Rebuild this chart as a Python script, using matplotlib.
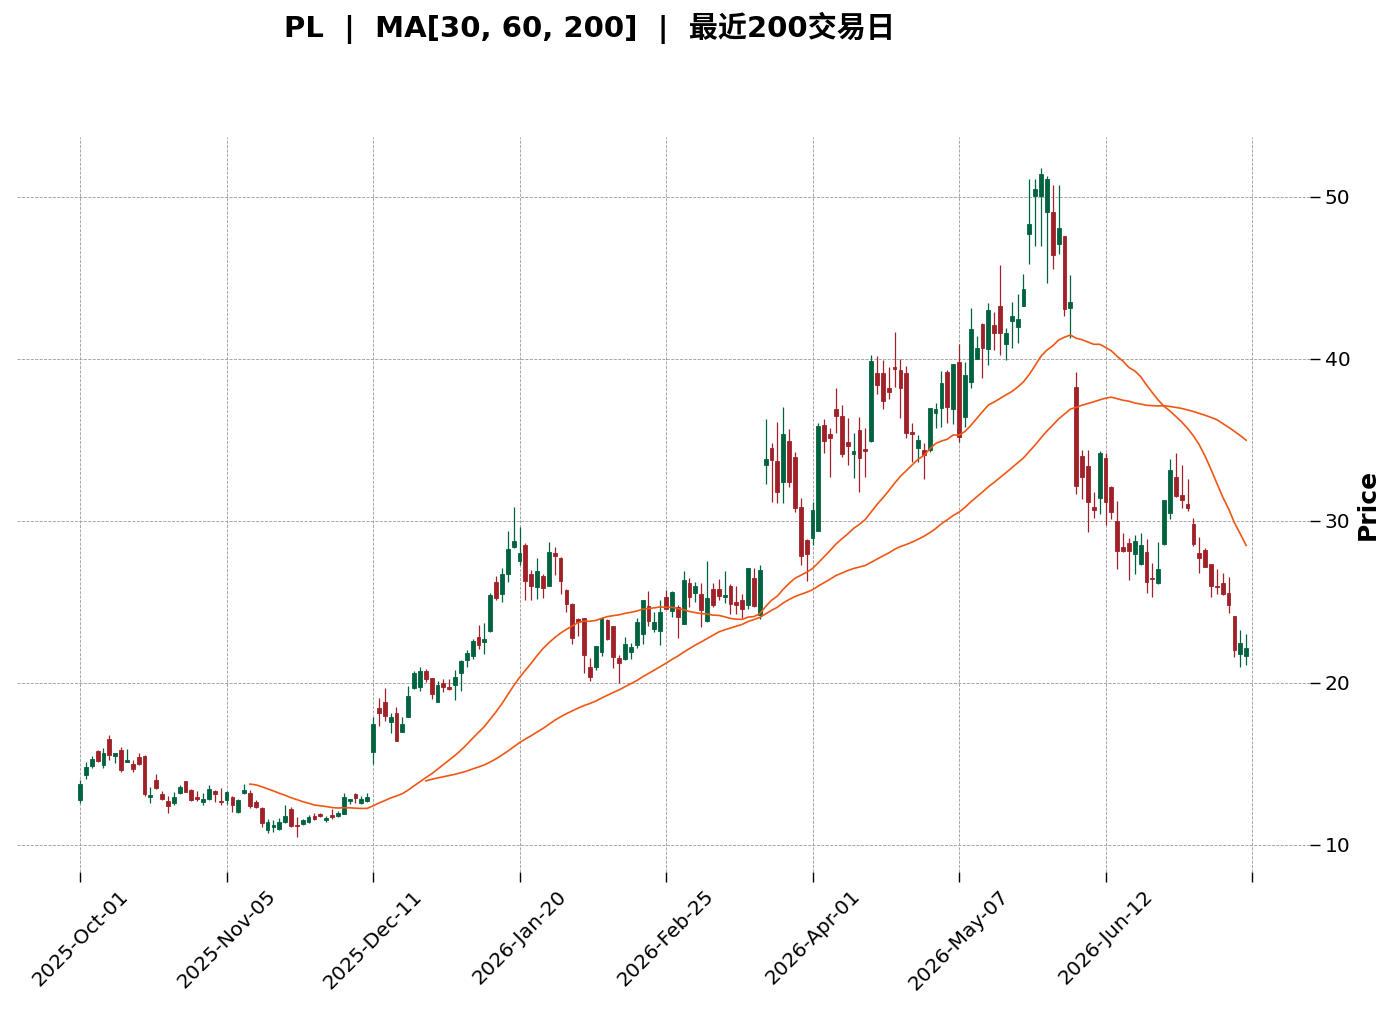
import pandas as pd
import numpy as np
import matplotlib
matplotlib.use("Agg")
import matplotlib.pyplot as plt

TICKER = "PL"
MA_WINDOWS = [30, 60, 200]
START = "2025-10-01"
HOLIDAYS = ["2025-11-27", "2025-12-25", "2026-01-01", "2026-01-19",
            "2026-02-16", "2026-04-03", "2026-05-25", "2026-06-19"]

opens = [
    12.78, 14.32, 14.88, 15.80, 14.96, 16.54, 15.49, 15.86, 15.14, 15.00,
    15.43, 15.49, 12.98, 14.01, 13.15, 12.72, 12.59, 13.21, 13.95, 13.40,
    12.98, 12.65, 12.86, 13.31, 12.71, 12.78, 12.98, 12.06, 13.19, 13.23,
    12.65, 12.26, 10.93, 11.09, 10.97, 11.42, 12.24, 11.23, 11.30, 11.42,
    11.79, 11.91, 11.54, 11.87, 11.79, 11.91, 12.73, 13.15, 12.57, 12.73,
    15.76, 18.46, 18.83, 17.61, 18.13, 16.99, 17.92, 19.71, 19.77, 20.76,
    20.31, 18.85, 20.02, 19.75, 19.86, 20.64, 21.42, 21.69, 22.84, 22.55,
    23.21, 26.22, 25.47, 26.75, 28.40, 27.55, 28.52, 26.71, 25.95, 26.60,
    26.01, 28.02, 27.72, 25.74, 24.88, 23.95, 23.99, 20.99, 21.01, 21.93,
    23.89, 23.52, 21.52, 21.46, 21.93, 22.35, 23.00, 24.75, 23.31, 23.23,
    25.33, 24.46, 24.67, 23.64, 26.15, 25.57, 25.49, 23.85, 25.78, 25.78,
    25.29, 25.99, 25.00, 25.12, 24.81, 26.46, 24.20, 33.46, 34.51, 33.70,
    32.39, 34.94, 33.95, 30.86, 28.83, 28.97, 29.40, 35.93, 35.35, 36.91,
    36.48, 34.90, 34.15, 35.62, 34.44, 34.96, 39.12, 39.12, 38.19, 39.49,
    39.32, 39.15, 35.49, 34.53, 34.38, 34.38, 36.69, 36.99, 39.20, 36.93,
    39.83, 36.40, 38.60, 40.00, 42.16, 40.60, 42.10, 43.27, 40.91, 42.37,
    41.99, 43.29, 47.70, 50.08, 50.08, 49.09, 49.09, 47.10, 47.59, 43.17,
    38.27, 34.01, 33.40, 30.86, 31.44, 33.87, 32.08, 30.00, 28.41, 28.62,
    27.94, 27.33, 28.07, 26.50, 26.17, 28.56, 30.47, 32.70, 31.60, 31.05,
    29.81, 28.01, 28.21, 27.35, 26.01, 26.15, 25.53, 24.14, 21.79, 21.67,
]
highs = [
    14.01, 15.10, 15.47, 15.89, 15.97, 16.77, 15.70, 16.03, 15.91, 15.23,
    15.66, 15.53, 13.58, 14.40, 13.31, 13.02, 13.25, 13.70, 13.95, 13.44,
    13.31, 13.19, 13.70, 13.38, 13.50, 13.31, 13.02, 12.82, 13.77, 13.40,
    12.78, 12.37, 11.59, 11.54, 11.65, 12.45, 12.37, 11.71, 11.63, 11.83,
    11.99, 11.99, 11.79, 12.22, 12.10, 13.19, 12.86, 13.19, 13.02, 13.19,
    17.92, 19.07, 19.67, 18.17, 18.50, 17.92, 19.81, 20.76, 20.97, 20.88,
    20.31, 20.10, 20.25, 20.27, 20.80, 21.42, 22.05, 22.70, 23.58, 23.72,
    25.54, 26.62, 27.12, 29.38, 30.89, 29.63, 28.62, 26.98, 27.70, 26.71,
    28.68, 28.38, 27.80, 25.80, 24.95, 24.03, 24.03, 21.52, 22.28, 24.09,
    23.93, 23.52, 21.73, 22.86, 22.45, 23.99, 25.12, 25.66, 24.38, 25.12,
    25.74, 25.70, 24.81, 26.93, 26.46, 26.25, 26.19, 27.55, 26.19, 26.42,
    26.91, 26.11, 25.99, 25.49, 27.08, 27.08, 27.28, 36.30, 34.80, 36.09,
    37.04, 35.68, 34.24, 31.40, 28.89, 31.19, 36.03, 36.30, 35.76, 38.19,
    37.16, 36.34, 35.45, 36.40, 35.72, 40.25, 40.19, 39.94, 39.53, 41.69,
    39.98, 39.57, 36.03, 35.31, 34.80, 36.99, 37.26, 39.26, 39.32, 39.69,
    40.91, 39.83, 43.13, 41.42, 42.24, 43.44, 42.92, 45.78, 41.89, 43.54,
    43.99, 45.25, 51.09, 51.09, 51.77, 51.30, 50.74, 50.74, 47.59, 45.19,
    39.22, 34.38, 34.38, 31.77, 34.32, 34.18, 32.18, 31.23, 29.28, 28.97,
    29.14, 29.24, 28.89, 27.39, 28.68, 31.30, 33.81, 34.22, 33.46, 32.57,
    30.16, 28.99, 28.31, 27.35, 27.02, 26.77, 26.56, 24.14, 23.27, 23.02,
]
lows = [
    12.57, 14.06, 14.73, 15.14, 14.73, 15.25, 15.04, 14.53, 15.14, 14.53,
    14.94, 13.04, 12.57, 13.46, 12.78, 11.96, 12.47, 13.13, 13.25, 12.73,
    12.73, 12.49, 12.78, 12.67, 12.45, 12.53, 12.02, 11.99, 13.13, 12.26,
    12.30, 11.09, 10.72, 10.82, 10.93, 11.38, 11.09, 10.47, 11.23, 11.34,
    11.54, 11.71, 11.42, 11.63, 11.71, 11.91, 12.53, 12.57, 12.53, 12.65,
    15.00, 17.35, 17.64, 16.89, 16.40, 16.99, 17.92, 19.61, 19.53, 20.08,
    19.01, 18.81, 19.44, 19.57, 18.95, 19.51, 20.97, 21.46, 22.10, 21.79,
    23.13, 25.10, 24.98, 26.22, 28.35, 27.28, 25.10, 25.12, 25.19, 25.23,
    26.01, 26.67, 25.51, 24.40, 22.39, 22.92, 20.60, 20.12, 20.80, 21.67,
    22.65, 20.91, 20.02, 21.42, 21.46, 22.18, 22.41, 23.52, 23.17, 22.35,
    24.55, 24.09, 22.76, 23.64, 24.67, 25.02, 23.48, 23.78, 24.67, 25.12,
    24.92, 24.26, 24.26, 23.99, 24.55, 24.67, 23.93, 32.26, 31.19, 31.09,
    31.09, 32.12, 30.58, 27.28, 26.30, 28.52, 29.40, 34.18, 32.74, 35.41,
    33.97, 33.46, 32.67, 31.81, 32.74, 34.90, 37.82, 36.90, 37.51, 38.25,
    36.34, 35.14, 33.66, 33.66, 32.57, 34.28, 35.72, 35.78, 36.07, 35.99,
    34.90, 35.78, 38.19, 40.00, 38.81, 39.63, 40.56, 40.25, 39.94, 40.66,
    41.01, 43.27, 45.86, 46.98, 46.98, 44.71, 45.53, 46.48, 42.65, 41.28,
    31.65, 31.34, 29.34, 30.16, 30.41, 29.75, 30.12, 27.04, 28.07, 26.36,
    26.71, 27.28, 25.53, 25.33, 26.09, 28.52, 30.10, 31.46, 30.78, 30.64,
    28.46, 26.81, 27.14, 25.29, 25.49, 25.43, 24.30, 21.63, 21.01, 21.11,
]
closes = [
    13.77, 14.81, 15.31, 15.21, 15.68, 15.58, 15.68, 14.65, 15.27, 14.71,
    15.02, 13.15, 13.11, 13.52, 12.86, 12.43, 12.96, 13.58, 13.29, 12.80,
    12.86, 12.84, 13.46, 13.15, 12.65, 13.25, 12.47, 12.78, 13.40, 12.43,
    12.37, 11.38, 11.40, 11.25, 11.42, 11.79, 11.17, 11.15, 11.54, 11.75,
    11.63, 11.79, 11.69, 11.71, 11.99, 12.94, 12.82, 12.88, 12.82, 12.94,
    17.47, 18.17, 17.98, 17.90, 16.44, 17.47, 19.20, 20.64, 20.74, 20.27,
    19.34, 19.86, 19.73, 19.65, 20.39, 21.38, 21.85, 22.59, 22.37, 22.70,
    25.43, 25.27, 26.71, 28.25, 28.75, 28.02, 26.32, 26.01, 26.90, 25.84,
    28.07, 27.86, 26.30, 24.90, 22.80, 23.78, 21.73, 20.39, 22.28, 23.99,
    22.74, 21.63, 21.25, 22.41, 22.22, 23.77, 25.12, 23.85, 23.77, 24.38,
    24.59, 25.62, 24.09, 26.36, 25.29, 25.99, 24.51, 25.25, 24.80, 25.37,
    25.43, 24.88, 24.81, 24.55, 27.08, 24.75, 26.98, 33.83, 33.77, 31.81,
    35.35, 32.39, 30.82, 27.86, 27.94, 30.68, 35.88, 34.94, 35.14, 36.50,
    34.14, 34.65, 34.32, 33.91, 34.34, 39.88, 38.40, 37.43, 37.98, 39.38,
    38.23, 35.41, 35.37, 35.00, 34.06, 36.99, 36.93, 38.50, 37.06, 39.69,
    35.20, 38.99, 41.85, 40.66, 40.70, 43.02, 41.59, 41.59, 41.59, 42.65,
    42.45, 44.32, 48.33, 50.49, 51.42, 51.11, 46.42, 48.07, 43.09, 43.54,
    32.18, 32.70, 31.15, 30.70, 34.18, 31.15, 30.54, 28.17, 28.15, 28.15,
    28.77, 28.52, 26.25, 26.44, 27.04, 31.30, 33.15, 31.56, 31.30, 30.82,
    28.58, 27.73, 27.18, 25.99, 25.94, 25.49, 24.81, 22.04, 22.49, 22.14,
]

UP = "#006340"
DOWN = "#a02128"
MA_COLOR = "#ef5714"

dates = pd.bdate_range(START, periods=len(closes), freq="C", holidays=HOLIDAYS)
df = pd.DataFrame({"Open": opens, "High": highs, "Low": lows, "Close": closes}, index=dates)
x = np.arange(len(df))

fig = plt.figure(figsize=(13.99, 10.11), dpi=100)
ax = fig.add_axes([0.0122, 0.1375, 0.9242, 0.727])

up = df["Close"] >= df["Open"]
colors = np.where(up, UP, DOWN)

# wicks
ax.vlines(x, df["Low"], df["High"], colors=colors, linewidth=0.9, zorder=2)
# bodies
bottoms = np.minimum(df["Open"], df["Close"])
heights = np.maximum((df["Close"] - df["Open"]).abs(), 0.04)
ax.bar(x, heights, width=0.65, bottom=bottoms, color=colors,
       edgecolor=colors, linewidth=0.6, zorder=3)

# moving averages
for w in MA_WINDOWS:
    ma = df["Close"].rolling(w).mean()
    ax.plot(x, ma.values, color=MA_COLOR, linewidth=1.2, zorder=4)

ax.set_xlim(-10.75, 209.9)
ax.set_ylim(8.33, 53.7)

ticks = list(range(0, len(df) + 1, 25))
labels = [dates[t].strftime("%Y-%b-%d") if t < len(df) else "" for t in ticks]
ax.set_xticks(ticks)
ax.set_xticklabels(labels, rotation=45, ha="center", fontsize=14.5)
ax.set_yticks([10, 20, 30, 40, 50])

ax.yaxis.tick_right()
ax.yaxis.set_label_position("right")
ax.set_ylabel("Price", fontsize=18, fontweight="bold", labelpad=4)
ax.tick_params(axis="y", labelsize=14.5, length=7, width=1)
ax.tick_params(axis="x", length=7, width=1)

for s in ax.spines.values():
    s.set_visible(False)
ax.grid(True, linestyle="--", color="#999999", linewidth=0.6)
ax.set_axisbelow(True)

fig.text(0.4217, 0.972, f"{TICKER}  |  MA[30, 60, 200]  |  最近200交易日",
         ha="center", va="center", fontsize=21, fontweight="bold",
         family=["DejaVu Sans", "Noto Sans CJK SC"])

fig.savefig("out.png", dpi=100)
